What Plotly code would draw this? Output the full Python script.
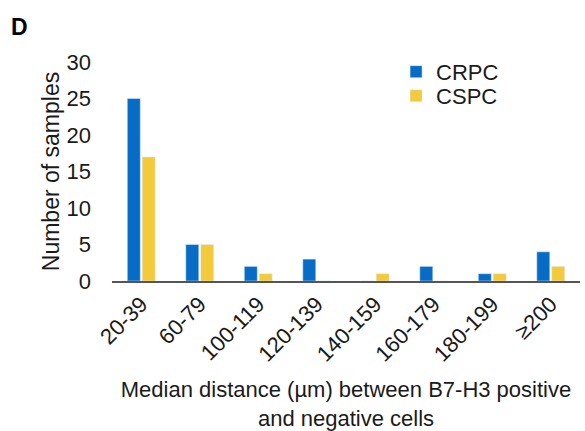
import plotly.graph_objects as go

categories = ["20-39", "60-79", "100-119", "120-139", "140-159", "160-179", "180-199", "≥200"]
crpc = [25, 5, 2, 3, 0, 2, 1, 4]
cspc = [17, 5, 1, 0, 1, 0, 1, 2]
y_ticks = [0, 5, 10, 15, 20, 25, 30]

BLUE = "#066cc6"
YELLOW = "#f3ca3b"
FONT = "Liberation Sans, Arial, sans-serif"

fig = go.Figure()
fig.add_trace(go.Bar(name="CRPC", x=categories, y=crpc, marker=dict(color=BLUE), legend="legend"))
fig.add_trace(go.Bar(name="CSPC", x=categories, y=cspc, marker=dict(color=YELLOW), legend="legend2"))

legend_style = dict(xanchor="left", yanchor="middle", font=dict(size=22, family=FONT),
                    bgcolor="rgba(0,0,0,0)", itemwidth=30)

fig.update_layout(
    width=585, height=431,
    margin=dict(l=112, r=5, t=62, b=150),
    plot_bgcolor="white", paper_bgcolor="white",
    font=dict(family=FONT, color="#1a1a1a"),
    barmode="group", bargap=0.49, bargroupgap=0.13,
    showlegend=True,
    legend=dict(x=0.607, y=0.955, **legend_style),
    legend2=dict(x=0.607, y=0.845, **legend_style),
    xaxis=dict(
        showline=True, linecolor="#555555", linewidth=1.5,
        ticks="", tickangle=-45, tickfont=dict(size=22),
        title=dict(text="Median distance (µm) between B7-H3 positive<br>and negative cells",
                   font=dict(size=22), standoff=16),
        range=[-0.5, 7.5],
    ),
    yaxis=dict(
        range=[0, 30], tickvals=y_ticks, showgrid=False, zeroline=False,
        showline=False, ticks="", tickfont=dict(size=22), ticklabelstandoff=20,
        title=dict(text="Number of samples", font=dict(size=23), standoff=0),
    ),
)

fig.add_annotation(text="<b>D</b>", xref="paper", yref="paper", x=-0.22, y=1.16,
                   xanchor="left", yanchor="middle", showarrow=False,
                   font=dict(size=23, family=FONT, color="black"))

fig.write_html("out.html")
